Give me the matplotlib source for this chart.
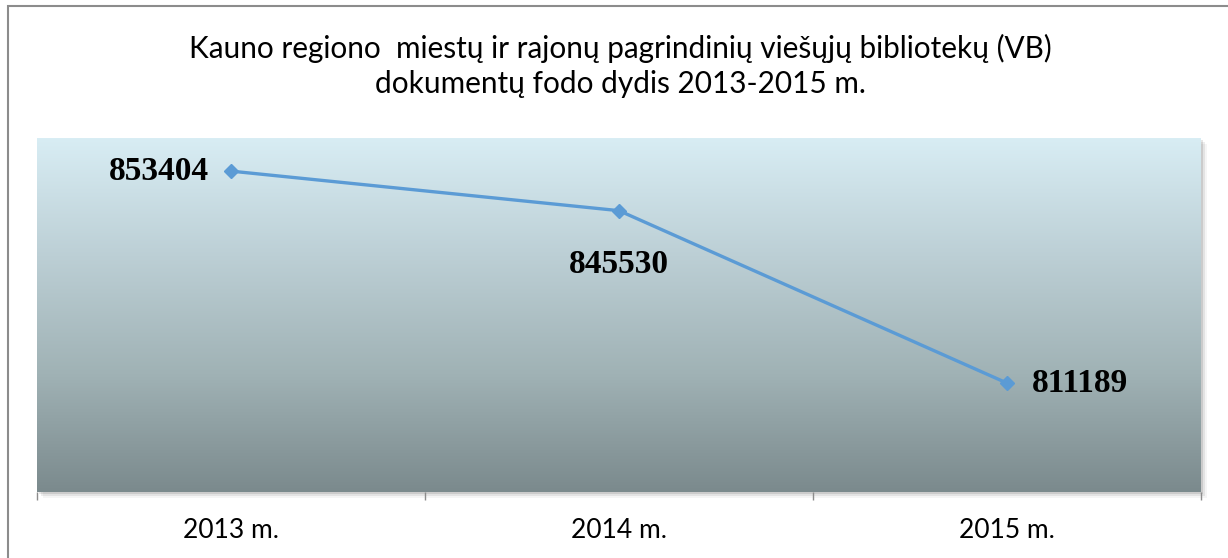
import numpy as np
import matplotlib
matplotlib.use("Agg")
import matplotlib.pyplot as plt
from matplotlib.patches import Rectangle
from matplotlib.colors import LinearSegmentedColormap

years = ["2013 m.", "2014 m.", "2015 m."]
values = [853404, 845530, 811189]
title = "Kauno regiono  miestų ir rajonų pagrindinių viešųjų bibliotekų (VB)\ndokumentų fodo dydis 2013-2015 m."

W, H = 1228, 558
fig = plt.figure(figsize=(W / 100, H / 100), dpi=100)
fig.patch.set_facecolor("white")

# outer chart border
fig.patches.append(Rectangle((8 / W, -0.05), 1.1, 1 - 6 / H + 0.05, transform=fig.transFigure,
                             fill=False, edgecolor="#8c8c8c", linewidth=1.5, zorder=0))

ax_l, ax_r, ax_t, ax_b = 37, 1201, 138, 492
pos = [ax_l / W, 1 - ax_b / H, (ax_r - ax_l) / W, (ax_b - ax_t) / H]

# soft shadow behind the plot area
for i, a in enumerate([0.10, 0.07, 0.04]):
    off = (i + 1) * 2
    fig.patches.append(Rectangle(((ax_l + off) / W, 1 - (ax_b + off) / H), (ax_r - ax_l) / W,
                                 (ax_b - ax_t) / H, transform=fig.transFigure,
                                 facecolor="black", alpha=a, edgecolor="none", zorder=0))

ax = fig.add_axes(pos, zorder=2)
cmap = LinearSegmentedColormap.from_list("bg", ["#d8edf4", "#bccfd5", "#a0b2b5", "#7b8a8d"])
grad = np.linspace(0, 1, 256).reshape(-1, 1)
ax.imshow(grad, cmap=cmap, aspect="auto", extent=(-0.5, 2.5, 789500, 860000),
          origin="upper", zorder=0)

x = np.arange(len(years))
ax.plot(x, values, color="#5b9bd5", linewidth=2.4, marker="D", markersize=7, zorder=3)
ax.set_xlim(-0.5, 2.5)
ax.set_ylim(789500, 860000)

lab = dict(fontsize=24, fontweight="bold", family="Liberation Serif", color="black", zorder=4)
ax.annotate(f"{values[0]}", (x[0], values[0]), xytext=(-16, 0), textcoords="offset points",
            ha="right", va="center", **lab)
ax.annotate(f"{values[1]}", (x[1], values[1]), xytext=(0, -39), textcoords="offset points",
            ha="center", va="center", **lab)
ax.annotate(f"{values[2]}", (x[2], values[2]), xytext=(18, 0), textcoords="offset points",
            ha="left", va="center", **lab)

for s in ax.spines.values():
    s.set_visible(False)
ax.set_yticks([])
ax.set_xticks([-0.5, 0.5, 1.5, 2.5])
ax.set_xticklabels([])
ax.tick_params(axis="x", length=6, width=1, color="#8c8c8c")
for xi, yl in zip(x, years):
    ax.text(xi, -0.108, yl, transform=ax.get_xaxis_transform(), ha="center", va="center",
            fontsize=19, family="Lato", color="black")

fig.text(0.505, 1 - 66 / H, title, ha="center", va="center", fontsize=21.4, family="Lato",
         linespacing=1.32, color="black")

fig.savefig("out.png", dpi=100)
